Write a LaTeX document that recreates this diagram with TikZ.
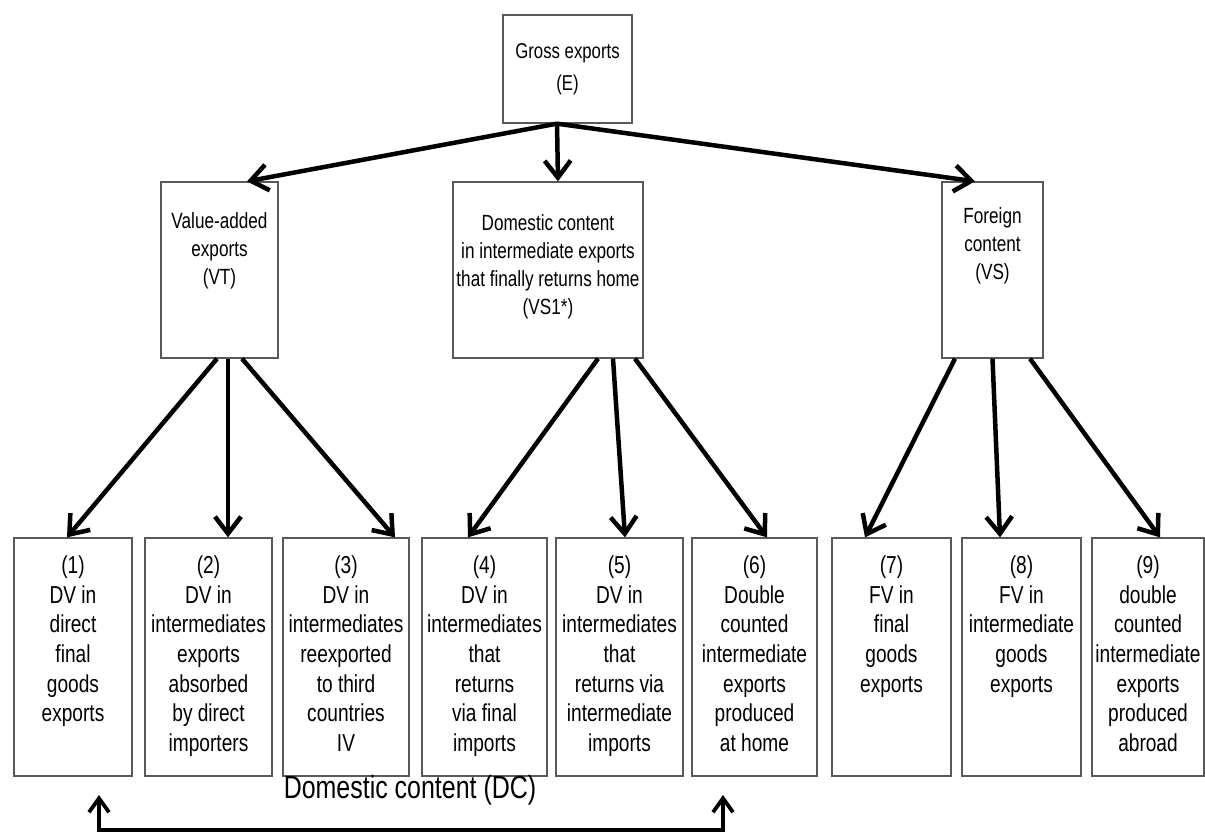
\documentclass[tikz,border=0pt]{standalone}
\usepackage{fontspec}
\setmainfont{Liberation Sans}[FakeStretch=0.78]
\usetikzlibrary{positioning,arrows.meta}

\begin{document}
\begin{tikzpicture}[x=1pt, y=-1pt,
	box/.style={draw=black!65, line width=1.3pt, inner sep=0pt},
	toptxt/.style={align=center, font=\fontsize{21.5}{32}\selectfont},
	midtxt/.style={align=center, inner sep=0pt, font=\fontsize{22}{28}\selectfont},
	leaftxt/.style={align=center, inner sep=0pt, font=\fontsize{24.5}{29.7}\selectfont},
	link/.style={line width=4.5pt, -{Straight Barb[length=17pt,width=26pt]}},
	dclink/.style={line width=3.8pt, {Straight Barb[length=14pt,width=20pt]}-{Straight Barb[length=14pt,width=20pt]}}]
	\useasboundingbox (0,0) rectangle (1205,833);

	% top
	\node[box, toptxt, minimum width=129pt, minimum height=108pt] (E) at (567.5,69) {Gross exports\\(E)};

	% middle level
	\node[box, minimum width=117pt, minimum height=176pt] (VT) at (219.5,270) {};
	\node[box, minimum width=190pt, minimum height=176pt] (VS1) at (548,270) {};
	\node[box, minimum width=101pt, minimum height=176pt] (VS) at (992.5,270) {};
	\node[midtxt, below=31pt of VT.north] (VTt) {Value-added\\exports\\(VT)};
	\node[midtxt, below=33pt of VS1.north] (VS1t) {Domestic content\\in intermediate exports\\that finally returns home\\(VS1*)};
	\node[midtxt, below=26pt of VS.north] (VSt) {Foreign\\content\\(VS)};

	% bottom level
	\node[box, minimum width=118pt, minimum height=238pt] (b1) at (73,657) {};
	\node[box, minimum width=127pt, minimum height=238pt] (b2) at (208.5,657) {};
	\node[box, minimum width=126pt, minimum height=238pt] (b3) at (346,657) {};
	\node[box, minimum width=125pt, minimum height=238pt] (b4) at (484.5,657) {};
	\node[box, minimum width=127pt, minimum height=238pt] (b5) at (619.5,657) {};
	\node[box, minimum width=125pt, minimum height=238pt] (b6) at (754.5,657) {};
	\node[box, minimum width=119pt, minimum height=238pt] (b7) at (891.5,657) {};
	\node[box, minimum width=119pt, minimum height=238pt] (b8) at (1021.5,657) {};
	\node[box, minimum width=112pt, minimum height=238pt] (b9) at (1148,657) {};
	\node[leaftxt, below=18pt of b1.north] (t1) {(1)\\DV in\\direct\\final\\goods\\exports};
	\node[leaftxt, below=18pt of b2.north] (t2) {(2)\\DV in\\intermediates\\exports\\absorbed\\by direct\\importers};
	\node[leaftxt, below=18pt of b3.north] (t3) {(3)\\DV in\\intermediates\\reexported\\to third\\countries\\IV};
	\node[leaftxt, below=18pt of b4.north] (t4) {(4)\\DV in\\intermediates\\that\\returns\\via final\\imports};
	\node[leaftxt, below=18pt of b5.north] (t5) {(5)\\DV in\\intermediates\\that\\returns via\\intermediate\\imports};
	\node[leaftxt, below=18pt of b6.north] (t6) {(6)\\Double\\counted\\intermediate\\exports\\produced\\at home};
	\node[leaftxt, below=18pt of b7.north] (t7) {(7)\\FV in\\final\\goods\\exports};
	\node[leaftxt, below=18pt of b8.north] (t8) {(8)\\FV in\\intermediate\\goods\\exports};
	\node[leaftxt, below=18pt of b9.north] (t9) {(9)\\double\\counted\\intermediate\\exports\\produced\\abroad};

	% arrows
	\draw[link] ([xshift=-10.5pt]E.south) -- ([xshift=27.5pt]VT.north);
	\draw[link] ([xshift=-10.5pt]E.south) -- ([xshift=10pt]VS1.north);
	\draw[link] ([xshift=-10.5pt]E.south) -- ([xshift=-17.5pt]VS.north);

	\draw[link] ([xshift=-2.5pt]VT.south) -- ([xshift=-6pt]b1.north);
	\draw[link] ([xshift=8.5pt]VT.south) -- ([xshift=19.5pt]b2.north);
	\draw[link] ([xshift=22.5pt]VT.south) -- ([xshift=49pt]b3.north);

	\draw[link] ([xshift=50pt]VS1.south) -- ([xshift=-16.5pt]b4.north);
	\draw[link] ([xshift=65pt]VS1.south) -- ([xshift=5.5pt]b5.north);
	\draw[link] ([xshift=87pt]VS1.south) -- ([xshift=12.5pt]b6.north);

	\draw[link] ([xshift=-37.5pt]VS.south) -- ([xshift=-26.5pt]b7.north);
	\draw[link] (VS.south) -- ([xshift=-21.5pt]b8.north);
	\draw[link] ([xshift=37.5pt]VS.south) -- ([xshift=12pt]b9.north);

	% domestic content
	\coordinate (dcl) at (99,795);
	\coordinate (dcr) at (723,795);
	\draw[dclink] (dcl) -- ++(0,35) -| (dcr);
	\node[font=\fontsize{32}{34}\selectfont] (DC) at (410,790) {Domestic content (DC)};
\end{tikzpicture}
\end{document}
